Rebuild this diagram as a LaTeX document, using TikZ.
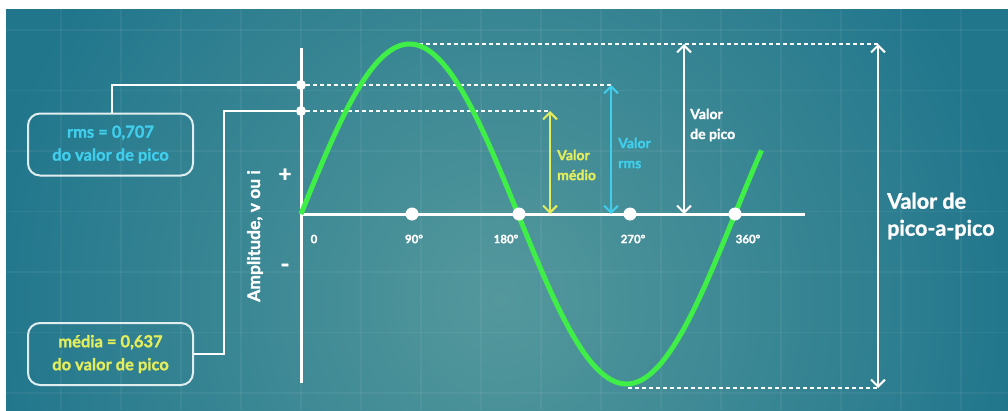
\documentclass[tikz,border=0pt]{standalone}
\usepackage{fontspec}
\setmainfont{Lato}[BoldFeatures={FakeBold=1.3}]
\usetikzlibrary{arrows.meta}
\definecolor{bgout}{RGB}{33,118,140}
\definecolor{bgin}{RGB}{84,152,156}
\definecolor{wave}{RGB}{64,238,72}
\definecolor{cyanlab}{RGB}{64,206,236}
\definecolor{yellab}{RGB}{228,238,92}
\definecolor{boxline}{RGB}{225,238,240}
\tikzset{
  axisline/.style={white,line width=3pt},
  conn/.style={white,line width=2pt},
  guide/.style={white,line width=2pt,dash pattern=on 4pt off 3pt},
  dimarrow/.style={line width=2pt,{Straight Barb[length=7pt,width=14pt]}-{Straight Barb[length=7pt,width=14pt]}},
  dotnode/.style={circle,fill=white,inner sep=0pt,minimum size=13pt},
  smalldot/.style={circle,fill=white,inner sep=0pt,minimum size=10pt},
  infobox/.style={draw=boxline,line width=2pt,rounded corners=12pt,minimum width=165pt,minimum height=62pt,align=center,font=\bfseries\fontsize{16.5}{23}\selectfont,inner sep=0pt},
  ticklab/.style={white,font=\bfseries\fontsize{11.5}{13}\selectfont,inner sep=0pt},
  vallab/.style={align=left,anchor=west,font=\bfseries\fontsize{14}{20}\selectfont,inner sep=0pt},
}
\begin{document}
\begin{tikzpicture}[x=1pt,y=-1pt]
\useasboundingbox (0,0) rectangle (1008,410);
\fill[white] (0,0) rectangle (1008,410);
\begin{scope}
\clip (6,9) rectangle (1008,410);
\fill[bgout] (6,9) rectangle (1008,410);
\shade[inner color=bgin,outer color=bgout] (500,300) circle (520);
\foreach \gx in {61,121,...,1001} \draw[white,opacity=0.05,line width=1.5pt] (\gx,9) -- (\gx,410);
\foreach \gy in {30,90.5,151,211.5,272,332.5,393} \draw[white,opacity=0.05,line width=1.5pt] (6,\gy) -- (1008,\gy);
\end{scope}
% axes
\coordinate (o) at (301,214);
\coordinate (ytop) at (301,48);
\coordinate (ybot) at (301,383);
\coordinate (xend) at (805,214);
\draw[axisline] (ytop) -- (ybot);
\draw[axisline] (o) -- (xend);
% guide lines
\coordinate (pk) at (412,44);
\coordinate (pkr) at (878,44);
\coordinate (tr) at (628,388);
\coordinate (trr) at (878,388);
\coordinate (rmsr) at (611,85);
\coordinate (medr) at (550,111);
\node[smalldot] (drms) at (301,85) {};
\node[smalldot] (dmed) at (301,111) {};
\draw[guide] (pk) -- (pkr);
\draw[guide] (tr) -- (trr);
\draw[guide] (drms) -- (rmsr);
\draw[guide] (dmed) -- (medr);
% wave
\draw[wave,line width=5pt] plot[domain=0:382,samples=150,smooth] ({301+\x*1.20556},{214-170*sin(\x)});
% dots on axis
\node[dotnode] (d90) at (412,214) {};
\node[dotnode] (d180) at (519,214) {};
\node[dotnode] (d270) at (630,214) {};
\node[dotnode] (d360) at (735,214) {};
% tick labels
\node[ticklab] (t0) at (314,239) {0};
\node[ticklab] (t90) at (414,239) {90º};
\node[ticklab] (t180) at (506,239) {180º};
\node[ticklab] (t270) at (633,239) {270º};
\node[ticklab] (t360) at (748,239) {360º};
% dimension arrows
\coordinate (mb) at (550,214);
\coordinate (rb) at (611,214);
\coordinate (pt) at (684,44);
\coordinate (pb) at (684,214);
\draw[dimarrow,yellab] (medr) -- (mb);
\draw[dimarrow,cyanlab] (rmsr) -- (rb);
\draw[dimarrow,white] (pt) -- (pb);
\draw[dimarrow,white] (pkr) -- (trr);
\node[vallab,text=yellab] (lmed) at (557,165) {Valor\\médio};
\node[vallab,text=cyanlab] (lrms) at (618,153) {Valor\\rms};
\node[vallab,text=white] (lpico) at (690,125) {Valor\\de pico};
\node[vallab,text=white,font=\bfseries\fontsize{21.5}{27}\selectfont] (lpp) at (887,216) {Valor de\\pico-a-pico};
% axis labels
\node[text=white,rotate=90,font=\bfseries\fontsize{17.5}{18}\selectfont,inner sep=0pt] (amp) at (255,236) {Amplitude, v ou i};
\node[text=white,font=\bfseries\fontsize{22}{22}\selectfont,inner sep=0pt] (plus) at (285,175) {+};
\node[text=white,font=\bfseries\fontsize{24}{24}\selectfont,inner sep=0pt] (minus) at (285,268) {-};
% boxes
\node[infobox,text=cyanlab] (rms) at (110.5,144.5) {rms = 0,707\\do valor de pico};
\node[infobox,text=yellab] (media) at (110.5,354) {média = 0,637\\do valor de pico};
\coordinate (k1) at (112,85);
\coordinate (k2) at (224,354);
\coordinate (k3) at (224,111);
\draw[conn] (rms.north -| k1) -- (k1) -- (drms);
\draw[conn] (media.east) -- (k2) -- (k3) -- (dmed);
\end{tikzpicture}
\end{document}
